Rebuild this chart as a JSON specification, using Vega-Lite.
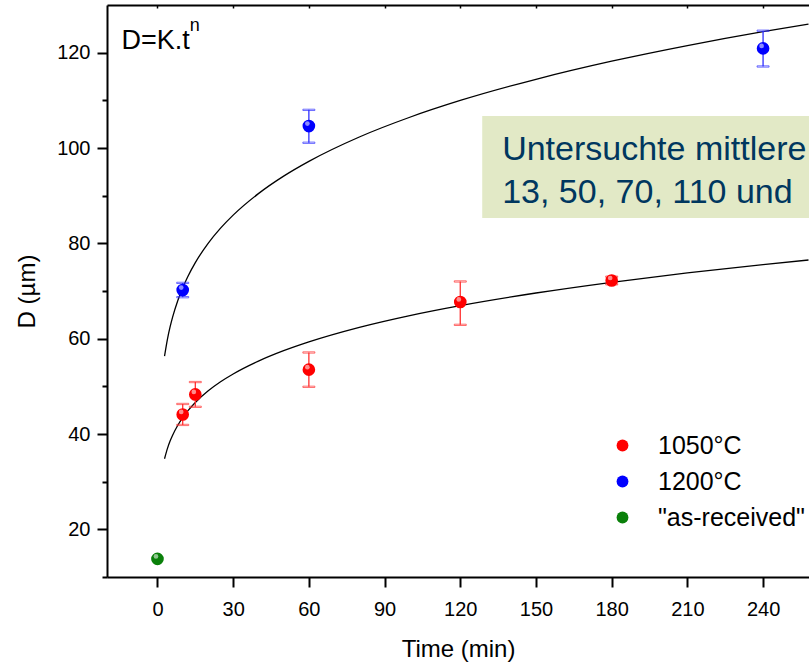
{
  "$schema": "https://vega.github.io/schema/vega-lite/v6.json",
  "width": 702,
  "height": 572,
  "autosize": {"type": "none"},
  "padding": {"left": 107, "top": 5, "right": 0, "bottom": 88},
  "background": "white",
  "config": {
    "view": {"stroke": null},
    "font": "Liberation Sans",
    "axis": {"grid": false, "domainColor": "black", "domainWidth": 2, "tickColor": "black", "tickWidth": 2, "labelColor": "black", "titleColor": "black", "titleFontWeight": "normal", "labelFont": "Liberation Sans", "titleFont": "Liberation Sans"}
  },
  "datasets": {
    "pts": [
      {"series": "1050°C", "t": 10, "D": 44.1, "lo": 41.9, "hi": 46.3},
      {"series": "1050°C", "t": 15, "D": 48.3, "lo": 45.7, "hi": 50.9},
      {"series": "1050°C", "t": 60, "D": 53.5, "lo": 49.9, "hi": 57.1},
      {"series": "1050°C", "t": 120, "D": 67.7, "lo": 62.9, "hi": 72.0},
      {"series": "1050°C", "t": 180, "D": 72.2, "lo": 71.4, "hi": 73.0},
      {"series": "1200°C", "t": 10, "D": 70.2, "lo": 68.7, "hi": 71.7},
      {"series": "1200°C", "t": 60, "D": 104.6, "lo": 101.1, "hi": 108.0},
      {"series": "1200°C", "t": 240, "D": 120.9, "lo": 117.1, "hi": 124.6},
      {"series": "\"as-received\"", "t": 0, "D": 13.8}
    ],
    "fit": [
      {"series": "1050°C", "t": 2.8, "D": 34.81},
      {"series": "1050°C", "t": 4, "D": 37.04},
      {"series": "1050°C", "t": 5, "D": 38.51},
      {"series": "1050°C", "t": 6, "D": 39.74},
      {"series": "1050°C", "t": 8, "D": 41.79},
      {"series": "1050°C", "t": 10, "D": 43.44},
      {"series": "1050°C", "t": 12, "D": 44.84},
      {"series": "1050°C", "t": 15, "D": 46.62},
      {"series": "1050°C", "t": 20, "D": 49.01},
      {"series": "1050°C", "t": 25, "D": 50.95},
      {"series": "1050°C", "t": 30, "D": 52.59},
      {"series": "1050°C", "t": 40, "D": 55.29},
      {"series": "1050°C", "t": 50, "D": 57.48},
      {"series": "1050°C", "t": 60, "D": 59.33},
      {"series": "1050°C", "t": 80, "D": 62.38},
      {"series": "1050°C", "t": 100, "D": 64.85},
      {"series": "1050°C", "t": 120, "D": 66.94},
      {"series": "1050°C", "t": 150, "D": 69.58},
      {"series": "1050°C", "t": 180, "D": 71.83},
      {"series": "1050°C", "t": 210, "D": 73.79},
      {"series": "1050°C", "t": 240, "D": 75.52},
      {"series": "1050°C", "t": 258, "D": 76.5},
      {"series": "1200°C", "t": 2.8, "D": 56.34},
      {"series": "1200°C", "t": 4, "D": 60.03},
      {"series": "1200°C", "t": 5, "D": 62.46},
      {"series": "1200°C", "t": 6, "D": 64.52},
      {"series": "1200°C", "t": 8, "D": 67.91},
      {"series": "1200°C", "t": 10, "D": 70.66},
      {"series": "1200°C", "t": 12, "D": 72.99},
      {"series": "1200°C", "t": 15, "D": 75.95},
      {"series": "1200°C", "t": 20, "D": 79.94},
      {"series": "1200°C", "t": 25, "D": 83.18},
      {"series": "1200°C", "t": 30, "D": 85.92},
      {"series": "1200°C", "t": 40, "D": 90.43},
      {"series": "1200°C", "t": 50, "D": 94.10},
      {"series": "1200°C", "t": 60, "D": 97.20},
      {"series": "1200°C", "t": 80, "D": 102.31},
      {"series": "1200°C", "t": 100, "D": 106.45},
      {"series": "1200°C", "t": 120, "D": 109.97},
      {"series": "1200°C", "t": 150, "D": 114.42},
      {"series": "1200°C", "t": 180, "D": 118.21},
      {"series": "1200°C", "t": 210, "D": 121.49},
      {"series": "1200°C", "t": 240, "D": 124.41},
      {"series": "1200°C", "t": 258, "D": 126.0}
    ],
    "box": [{"x1": 128.7, "x2": 300, "y1": 85.3, "y2": 106.7}],
    "boxtext": [
      {"t": 136.6, "D": 97.5, "txt": "Untersuchte mittlere"},
      {"t": 136.6, "D": 88.5, "txt": "13, 50, 70, 110 und"}
    ],
    "formula": [{"t": -14.3, "D": 120.8, "txt": "D=K.t"}],
    "sup": [{"t": 12.8, "D": 124.6, "txt": "n"}]
  },
  "resolve": {"axis": {"x": "independent", "y": "independent"}},
  "layer": [
    {
      "data": {"name": "box"},
      "mark": {"type": "rect", "fill": "#e2e9c6", "clip": true},
      "encoding": {
        "x": {"field": "x1", "type": "quantitative", "scale": {"domain": [-20, 258.2], "nice": false, "zero": false},
          "axis": {"orient": "bottom", "values": [0, 30, 60, 90, 120, 150, 180, 210, 240], "tickSize": 10, "labelFontSize": 20, "labelPadding": 12, "title": "Time (min)", "titleFontSize": 24, "titlePadding": 18}},
        "x2": {"field": "x2"},
        "y": {"field": "y1", "type": "quantitative", "scale": {"domain": [10, 130], "nice": false, "zero": false},
          "axis": {"orient": "left", "values": [10, 20, 30, 40, 50, 60, 70, 80, 90, 100, 110, 120],
            "labelExpr": "datum.value % 20 === 0 ? datum.label : ''",
            "tickSize": {"condition": {"test": "datum.value % 20 === 0", "value": 10}, "value": 5},
            "labelFontSize": 20, "labelPadding": 7, "title": "D (µm)", "titleFontSize": 24, "titlePadding": 17}},
        "y2": {"field": "y2"}
      }
    },
    {
      "data": {"name": "boxtext"},
      "mark": {"type": "text", "align": "left", "baseline": "alphabetic", "fontSize": 34, "color": "#00375f", "font": "Liberation Sans"},
      "encoding": {
        "x": {"field": "t", "type": "quantitative",
          "axis": {"orient": "top", "values": [0, 30, 60, 90, 120, 150, 180, 210, 240], "labels": false, "title": null, "tickSize": -3, "tickWidth": 1.5}},
        "y": {"field": "D", "type": "quantitative", "axis": null},
        "text": {"field": "txt"}
      }
    },
    {
      "data": {"name": "fit"},
      "mark": {"type": "line", "color": "black", "strokeWidth": 1.3, "interpolate": "monotone", "clip": true},
      "encoding": {
        "x": {"field": "t", "type": "quantitative", "axis": null},
        "y": {"field": "D", "type": "quantitative", "axis": null},
        "detail": {"field": "series"}
      }
    },
    {
      "data": {"name": "pts"},
      "transform": [{"filter": "isValid(datum.lo)"}],
      "mark": {"type": "rule", "strokeWidth": 1.3},
      "encoding": {
        "x": {"field": "t", "type": "quantitative", "axis": null},
        "y": {"field": "lo", "type": "quantitative", "axis": null},
        "y2": {"field": "hi"},
        "stroke": {"field": "series", "type": "nominal", "legend": null, "scale": {"domain": ["1050°C", "1200°C"], "range": ["#ff3030", "#3030ff"]}}
      }
    },
    {
      "data": {"name": "pts"},
      "transform": [{"filter": "isValid(datum.lo)"}],
      "mark": {"type": "tick", "orient": "horizontal", "size": 12, "thickness": 1.3},
      "encoding": {
        "x": {"field": "t", "type": "quantitative", "axis": null},
        "y": {"field": "lo", "type": "quantitative", "axis": null},
        "stroke": {"field": "series", "type": "nominal", "legend": null},
        "fill": {"value": null}
      }
    },
    {
      "data": {"name": "pts"},
      "transform": [{"filter": "isValid(datum.hi)"}],
      "mark": {"type": "tick", "orient": "horizontal", "size": 12, "thickness": 1.3},
      "encoding": {
        "x": {"field": "t", "type": "quantitative", "axis": null},
        "y": {"field": "hi", "type": "quantitative", "axis": null},
        "stroke": {"field": "series", "type": "nominal", "legend": null},
        "fill": {"value": null}
      }
    },
    {
      "data": {"name": "pts"},
      "mark": {"type": "point", "shape": "circle", "filled": true, "size": 160, "opacity": 1},
      "encoding": {
        "x": {"field": "t", "type": "quantitative", "axis": null},
        "y": {"field": "D", "type": "quantitative", "axis": null},
        "color": {"field": "series", "type": "nominal",
          "scale": {"domain": ["1050°C", "1200°C", "\"as-received\""], "range": ["#ff0000", "#0000ff", "#0a800a"]},
          "legend": {"orient": "none", "legendX": 503, "legendY": 428, "title": null, "labelFontSize": 25, "labelFont": "Liberation Sans", "labelColor": "black", "symbolSize": 140, "symbolType": "circle", "symbolStrokeWidth": 0, "rowPadding": 10, "labelOffset": 23, "padding": 0}}
      }
    },
    {
      "data": {"name": "pts"},
      "mark": {"type": "point", "shape": "circle", "filled": true, "size": 22, "color": "white", "opacity": 0.55, "xOffset": -1.5, "yOffset": -2.5},
      "encoding": {
        "x": {"field": "t", "type": "quantitative", "axis": null},
        "y": {"field": "D", "type": "quantitative", "axis": null}
      }
    },
    {
      "data": {"name": "formula"},
      "mark": {"type": "text", "align": "left", "baseline": "alphabetic", "fontSize": 27, "color": "black", "font": "Liberation Sans"},
      "encoding": {
        "x": {"field": "t", "type": "quantitative", "axis": null},
        "y": {"field": "D", "type": "quantitative", "axis": null},
        "text": {"field": "txt"}
      }
    },
    {
      "data": {"name": "sup"},
      "mark": {"type": "text", "align": "left", "baseline": "alphabetic", "fontSize": 18, "color": "black", "font": "Liberation Sans"},
      "encoding": {
        "x": {"field": "t", "type": "quantitative", "axis": null},
        "y": {"field": "D", "type": "quantitative", "axis": null},
        "text": {"field": "txt"}
      }
    }
  ]
}
